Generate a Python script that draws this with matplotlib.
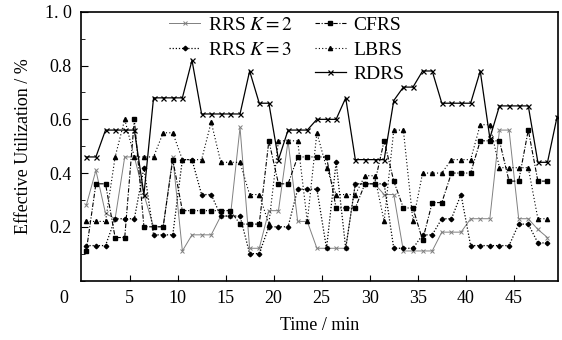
import numpy as np
import matplotlib
matplotlib.use('Agg')
import matplotlib.pyplot as plt
from matplotlib.ticker import MultipleLocator
import matplotlib.transforms as mtransforms

plt.rcParams['font.family'] = ['Liberation Serif', 'DejaVu Serif']
plt.rcParams['mathtext.fontset'] = 'stix'

# Datos (tiempo en min, utilizacion efectiva)
time = np.arange(50) + 0.5

rrs_k2 = [0.28, 0.41, 0.25, 0.23, 0.46, 0.46, 0.32, 0.20, 0.20, 0.46,
          0.11, 0.17, 0.17, 0.17, 0.24, 0.24, 0.57, 0.12, 0.12, 0.26,
          0.26, 0.52, 0.22, 0.22, 0.12, 0.12, 0.12, 0.12, 0.36, 0.36,
          0.36, 0.32, 0.32, 0.11, 0.11, 0.11, 0.11, 0.18, 0.18, 0.18,
          0.23, 0.23, 0.23, 0.56, 0.56, 0.23, 0.23, 0.19, 0.16]

rrs_k3 = [0.13, 0.13, 0.13, 0.23, 0.23, 0.23, 0.42, 0.17, 0.17, 0.17,
          0.45, 0.45, 0.32, 0.32, 0.24, 0.24, 0.24, 0.10, 0.10, 0.20,
          0.20, 0.20, 0.34, 0.34, 0.34, 0.12, 0.44, 0.12, 0.36, 0.36,
          0.36, 0.36, 0.12, 0.12, 0.12, 0.17, 0.17, 0.23, 0.23, 0.32,
          0.13, 0.13, 0.13, 0.13, 0.13, 0.21, 0.21, 0.14, 0.14]

cfrs = [0.11, 0.36, 0.36, 0.16, 0.16, 0.60, 0.20, 0.20, 0.20, 0.45,
        0.26, 0.26, 0.26, 0.26, 0.26, 0.26, 0.21, 0.21, 0.21, 0.52,
        0.36, 0.36, 0.46, 0.46, 0.46, 0.46, 0.27, 0.27, 0.27, 0.36,
        0.36, 0.52, 0.37, 0.27, 0.27, 0.15, 0.29, 0.29, 0.40, 0.40,
        0.40, 0.52, 0.52, 0.52, 0.37, 0.37, 0.56, 0.37, 0.37]

lbrs = [0.22, 0.22, 0.22, 0.46, 0.60, 0.46, 0.46, 0.46, 0.55, 0.55,
        0.45, 0.45, 0.45, 0.59, 0.44, 0.44, 0.44, 0.32, 0.32, 0.21,
        0.52, 0.52, 0.52, 0.22, 0.55, 0.42, 0.32, 0.32, 0.32, 0.39,
        0.39, 0.22, 0.56, 0.56, 0.22, 0.40, 0.40, 0.40, 0.45, 0.45,
        0.45, 0.58, 0.58, 0.42, 0.42, 0.42, 0.42, 0.23, 0.23]

rdrs = [0.46, 0.46, 0.56, 0.56, 0.56, 0.56, 0.32, 0.68, 0.68, 0.68,
        0.68, 0.82, 0.62, 0.62, 0.62, 0.62, 0.62, 0.78, 0.66, 0.66,
        0.45, 0.56, 0.56, 0.56, 0.60, 0.60, 0.60, 0.68, 0.45, 0.45,
        0.45, 0.45, 0.67, 0.72, 0.72, 0.78, 0.78, 0.66, 0.66, 0.66,
        0.66, 0.78, 0.53, 0.65, 0.65, 0.65, 0.65, 0.44, 0.44, 0.61]

x_ticks = [5, 10, 15, 20, 25, 30, 35, 40, 45]
y_ticks = [0.2, 0.4, 0.6, 0.8, 1.0]
y_tick_labels = ['0.2', '0.4', '0.6', '0.8', '1. 0']

fig = plt.figure(figsize=(5.62, 3.40), dpi=100)
ax = fig.add_axes([0.145, 0.175, 0.848, 0.79])

l1, = ax.plot(time[:len(rrs_k2)], rrs_k2, color='0.5', lw=0.7, ls='-',
              marker='x', ms=2.6, mew=0.7, label='RRS $K=2$')
l2, = ax.plot(time[:len(rrs_k3)], rrs_k3, color='black', lw=0.9, ls=(0, (1, 1.5)),
              marker='D', ms=2.3, label='RRS $K=3$')
l3, = ax.plot(time[:len(cfrs)], cfrs, color='black', lw=0.8, ls=(0, (4, 1.5, 1, 1.5)),
              marker='s', ms=2.8, label='CFRS')
l4, = ax.plot(time[:len(lbrs)], lbrs, color='black', lw=0.8, ls=(0, (1, 2)),
              marker='^', ms=3.0, label='LBRS')
l5, = ax.plot(time[:len(rdrs)], rdrs, color='black', lw=0.9, ls='-',
              marker='x', ms=3.6, mew=0.9, label='RDRS')

ax.set_xlim(0, 49.6)
ax.set_ylim(0, 1.0)
ax.set_xticks(x_ticks)
ax.set_yticks(y_ticks)
ax.set_yticklabels(y_tick_labels)
ax.yaxis.set_minor_locator(MultipleLocator(0.1))
ax.tick_params(axis='both', which='both', direction='in', labelsize=13,
               top=False, right=False)
ax.tick_params(axis='x', which='major', length=4, pad=7)
ax.tick_params(axis='y', which='major', length=5, pad=7)
ax.tick_params(axis='y', which='minor', length=3)
for sp in ax.spines.values():
    sp.set_linewidth(1.2)

# "0" comun en la esquina del origen
ax.text(0, 0, '0', fontsize=13, ha='center', va='top',
        transform=ax.transData + mtransforms.ScaledTranslation(-13 / 72, -7 / 72, fig.dpi_scale_trans))

ax.set_xlabel('Time / min', fontsize=13, labelpad=7)
ax.set_ylabel('Effective Utilization / %', fontsize=13, labelpad=9)

leg1 = ax.legend(handles=[l1, l2], loc='upper left', bbox_to_anchor=(0.18, 0.99),
                 frameon=False, fontsize=14, handlelength=1.6, handletextpad=0.4,
                 labelspacing=0.35, borderpad=0.1, borderaxespad=0)
ax.add_artist(leg1)
ax.legend(handles=[l3, l4, l5], loc='upper left', bbox_to_anchor=(0.485, 0.99),
          frameon=False, fontsize=14, handlelength=1.6, handletextpad=0.4,
          labelspacing=0.35, borderpad=0.1, borderaxespad=0)

fig.savefig('out.png', dpi=100)
